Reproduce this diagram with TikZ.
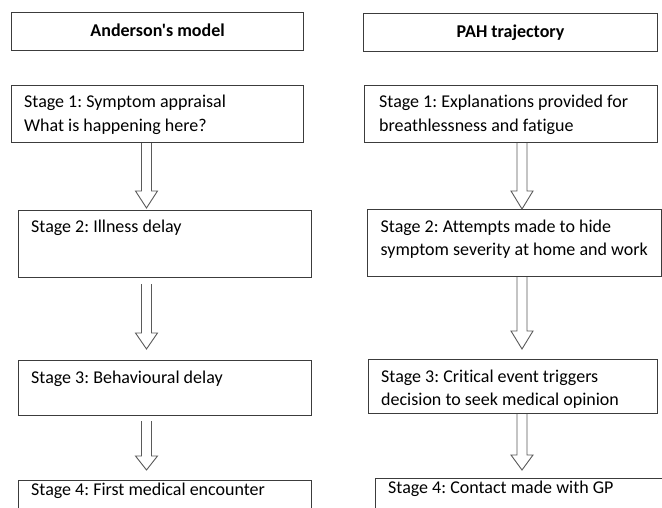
\documentclass[tikz,border=0pt]{standalone}
\usepackage{fontspec}
\setmainfont{Carlito}[Ligatures={TeXOff,CommonOff}]
\usetikzlibrary{calc}
\frenchspacing
\definecolor{boxgray}{RGB}{60,60,60}
\definecolor{arrgray}{RGB}{90,90,90}
\newcommand{\twolines}[2]{\vtop{\baselineskip=23.5pt\hbox{#1}\hbox{#2}}}
\newcommand{\blockarr}[3]{%
  \draw[blockarrow] ($(#1)+(-5,0)$) -- ($(#2)+(-5,-#3)$) -- ($(#2)+(-11,-#3)$) -- (#2)
    -- ($(#2)+(11,-#3)$) -- ($(#2)+(5,-#3)$) -- ($(#1)+(5,0)$);}
\tikzset{
  stagebox/.style={draw=boxgray, line width=1.2pt, rectangle, anchor=north west, inner sep=0pt},
  titlebox/.style={stagebox, minimum height=38pt, text height=12.5pt, text depth=3pt, font=\fontsize{18}{21}\selectfont\bfseries},
  stagetext/.style={anchor=base west, inner sep=0pt, font=\fontsize{18}{23.5}\selectfont\frenchspacing},
  blockarrow/.style={draw=arrgray, line width=0.9pt, line join=miter}
}
\begin{document}
\begin{tikzpicture}[x=1pt,y=-1pt]
\useasboundingbox (0,0) rectangle (662,508);
\fill[white] (0,0) rectangle (662,508);
\clip (0,0) rectangle (662,508);

% titles
\node[titlebox, minimum width=292pt] (T1) at (11,12) {Anderson's model};
\node[titlebox, minimum width=294pt] (T2) at (363,13) {PAH trajectory};

% left column boxes
\node[stagebox, minimum width=292pt, minimum height=57pt] (L1) at (11,85) {};
\node[stagebox, minimum width=293pt, minimum height=67pt] (L2) at (18,210) {};
\node[stagebox, minimum width=293pt, minimum height=55pt] (L3) at (18,360) {};
\node[stagebox, minimum width=293pt, minimum height=60pt] (L4) at (18,480) {};

% right column boxes
\node[stagebox, minimum width=293pt, minimum height=57pt] (R1) at (364,85) {};
\node[stagebox, minimum width=294pt, minimum height=67pt] (R2) at (367,209) {};
\node[stagebox, minimum width=289pt, minimum height=54pt] (R3) at (368,359) {};
\node[stagebox, minimum width=320pt, minimum height=60pt] (R4) at (375,478) {};

% texts
\node[stagetext] (L1t) at ($(L1.north west)+(13,23)$) {\twolines{Stage 1: Symptom appraisal}{What is happening here?}};
\node[stagetext] (L2t) at ($(L2.north west)+(13,23)$) {Stage 2: Illness delay};
\node[stagetext] (L3t) at ($(L3.north west)+(13,23)$) {Stage 3: Behavioural delay};
\node[stagetext] (L4t) at ($(L4.north west)+(13,15)$) {Stage 4: First medical encounter};

\node[stagetext] (R1t) at ($(R1.north west)+(15,23)$) {\twolines{Stage 1: Explanations provided for}{breathlessness and fatigue}};
\node[stagetext] (R2t) at ($(R2.north west)+(13.5,23.5)$) {\twolines{Stage 2: Attempts made to hide}{symptom severity at home and work}};
\node[stagetext] (R3t) at ($(R3.north west)+(13,23)$) {\twolines{Stage 3: Critical event triggers}{decision to seek medical opinion}};
\node[stagetext] (R4t) at ($(R4.north west)+(13,15)$) {Stage 4: Contact made with GP};

% arrow end points
\coordinate (a1s) at ($(L1.south west)+(135.5,0)$);
\coordinate (a1t) at ($(L2.north west)+(128.5,-2)$);
\coordinate (a2s) at ($(L2.south west)+(128.5,6)$);
\coordinate (a2t) at ($(L3.north west)+(128.5,-11)$);
\coordinate (a3s) at ($(L3.south west)+(128.5,5)$);
\coordinate (a3t) at ($(L4.north west)+(128.5,-10)$);

\coordinate (b1s) at ($(R1.south west)+(158,0)$);
\coordinate (b1t) at ($(R2.north west)+(155,0)$);
\coordinate (b2s) at ($(R2.south west)+(155,0)$);
\coordinate (b2t) at ($(R3.north west)+(154,-10)$);
\coordinate (b3s) at ($(R3.south west)+(154,0)$);
\coordinate (b3t) at ($(R4.north west)+(147,-8)$);

% arrows
\blockarr{a1s}{a1t}{17}
\blockarr{a2s}{a2t}{16}
\blockarr{a3s}{a3t}{14}
\blockarr{b1s}{b1t}{18}
\blockarr{b2s}{b2t}{18}
\blockarr{b3s}{b3t}{15}
\end{tikzpicture}
\end{document}
